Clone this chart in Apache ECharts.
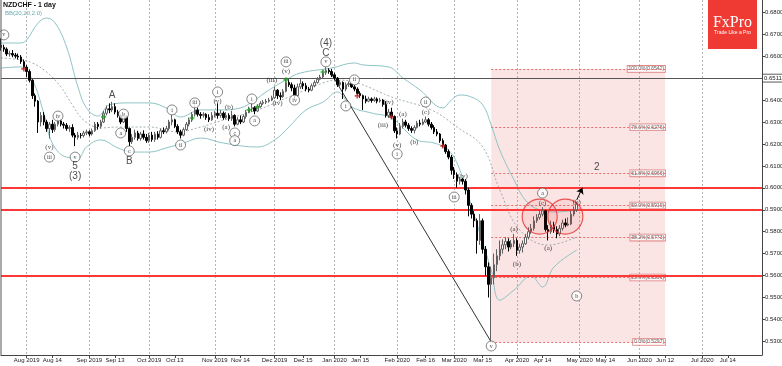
<!DOCTYPE html>
<html><head><meta charset="utf-8">
<script src="https://cdn.jsdelivr.net/npm/echarts/dist/echarts.min.js"></script>
<style>html,body{margin:0;padding:0;background:#fff}#c{width:782px;height:366px}</style>
</head><body><div id="c"></div>
<script>
// ---------- categories (trading days) ----------
const firstDay = [2019, 6, 19];
const slotCount = 268;
const closedDays = ['2019-12-25', '2020-01-01'];
const categories = [];
(function () {
  const d = new Date(Date.UTC(firstDay[0], firstDay[1], firstDay[2]));
  while (categories.length < slotCount) {
    const wd = d.getUTCDay();
    const s = d.toISOString().slice(0, 10);
    if (wd !== 0 && wd !== 6 && closedDays.indexOf(s) < 0) categories.push(s);
    d.setUTCDate(d.getUTCDate() + 1);
  }
})();

// ---------- x tick labels ----------
const tickDates = ['2019-08-01','2019-08-14','2019-09-02','2019-09-13','2019-10-01','2019-10-14','2019-11-01','2019-11-14','2019-12-02','2019-12-16','2020-01-02','2020-01-15','2020-02-03','2020-02-17','2020-03-02','2020-03-16','2020-04-01','2020-04-14','2020-05-01','2020-05-14','2020-06-01','2020-06-12','2020-07-01','2020-07-14'];
const tickLabels = ['Aug 2019','Aug 14','Sep 2019','Sep 13','Oct 2019','Oct 13','Nov 2019','Nov 14','Dec 2019','Dec 15','Jan 2020','Jan 15','Feb 2020','Feb 16','Mar 2020','Mar 15','Apr 2020','Apr 14','May 2020','May 14','Jun 2020','Jun 12','Jul 2020','Jul 14'];
const monthStarts = ['2019-08-01','2019-09-02','2019-10-01','2019-11-01','2019-12-02','2020-01-02','2020-02-03','2020-03-02','2020-04-01','2020-05-01','2020-06-01','2020-07-01'];

// ---------- daily OHLC from 2019-07-19 ----------
const opens = [.6650,.6640,.6632,.6610,.6612,.6605,.6600,.6596,.6575,.6550,.6530,.6490,.6420,.6395,.6300,.6330,.6300,.6270,.6290,.6265,
.6290,.6305,.6290,.6285,.6270,.6275,.6240,.6230,.6240,.6238,.6250,.6255,.6245,.6260,.6290,.6280,.6300,.6340,.6360,.6355,
.6370,.6345,.6330,.6300,.6325,.6270,.6210,.6230,.6250,.6225,.6245,.6230,.6215,.6240,.6220,.6245,.6230,.6260,.6255,.6270,
.6300,.6310,.6280,.6255,.6240,.6265,.6290,.6310,.6335,.6355,.6335,.6330,.6335,.6320,.6310,.6330,.6340,.6330,.6340,.6320,
.6330,.6315,.6330,.6290,.6310,.6300,.6325,.6345,.6360,.6365,.6350,.6370,.6385,.6390,.6395,.6400,.6410,.6445,.6420,.6415,
.6440,.6480,.6470,.6455,.6420,.6460,.6475,.6465,.6450,.6445,.6465,.6480,.6495,.6505,.6525,.6535,.6530,.6515,.6500,.6470,
.6480,.6450,.6470,.6475,.6460,.6450,.6430,.6420,.6405,.6395,.6405,.6398,.6405,.6395,.6400,.6380,.6330,.6345,.6325,.6260,
.6245,.6280,.6300,.6285,.6270,.6262,.6275,.6295,.6290,.6300,.6310,.6290,.6275,.6255,.6245,.6215,.6195,.6165,.6140,.6080,
.6060,.6030,.6040,.6030,.5990,.5920,.5880,.5850,.5760,.5850,.5720,.5640,.5560,.5590,.5650,.5690,.5720,.5740,.5755,.5730,
.5745,.5760,.5715,.5730,.5745,.5775,.5800,.5815,.5850,.5865,.5880,.5895,.5810,.5800,.5830,.5810,.5790,.5815,.5840,.5830,
.5835,.5880,.5900];
const closes = [.6640,.6632,.6610,.6612,.6605,.6600,.6596,.6575,.6550,.6530,.6490,.6420,.6395,.6300,.6330,.6300,.6270,.6290,.6265,.6290,
.6305,.6290,.6285,.6270,.6275,.6240,.6230,.6240,.6238,.6250,.6255,.6245,.6260,.6290,.6280,.6300,.6340,.6360,.6355,.6370,
.6345,.6330,.6300,.6325,.6270,.6210,.6230,.6250,.6225,.6245,.6230,.6215,.6240,.6220,.6245,.6230,.6260,.6255,.6270,.6300,
.6310,.6280,.6255,.6240,.6265,.6290,.6310,.6335,.6355,.6335,.6330,.6335,.6320,.6310,.6330,.6340,.6330,.6340,.6320,.6330,
.6315,.6330,.6290,.6310,.6300,.6325,.6345,.6360,.6365,.6350,.6370,.6385,.6390,.6395,.6400,.6410,.6445,.6420,.6415,.6440,
.6480,.6470,.6455,.6420,.6460,.6475,.6465,.6450,.6445,.6465,.6480,.6495,.6505,.6525,.6535,.6530,.6515,.6500,.6470,.6480,
.6450,.6470,.6475,.6460,.6450,.6430,.6420,.6405,.6395,.6405,.6398,.6405,.6395,.6400,.6380,.6330,.6345,.6325,.6260,.6245,
.6280,.6300,.6285,.6270,.6262,.6275,.6295,.6290,.6300,.6310,.6290,.6275,.6255,.6245,.6215,.6195,.6165,.6140,.6080,.6060,
.6030,.6040,.6030,.5990,.5920,.5880,.5850,.5760,.5850,.5720,.5640,.5560,.5590,.5650,.5690,.5720,.5740,.5755,.5730,.5745,
.5760,.5715,.5730,.5745,.5775,.5800,.5815,.5850,.5865,.5880,.5895,.5810,.5800,.5830,.5810,.5790,.5815,.5840,.5830,.5835,
.5880,.5900,.5925];
const lows = [.6625,.6620,.6600,.6598,.6595,.6590,.6585,.6565,.6540,.6505,.6480,.6405,.6370,.6250,.6280,.6285,.6255,.6225,.6250,.6255,
.6280,.6280,.6270,.6260,.6255,.6230,.6190,.6220,.6225,.6230,.6240,.6235,.6238,.6255,.6265,.6270,.6295,.6330,.6340,.6345,
.6335,.6320,.6290,.6295,.6255,.6190,.6200,.6220,.6215,.6215,.6220,.6205,.6205,.6210,.6210,.6220,.6225,.6245,.6248,.6262,
.6285,.6272,.6245,.6225,.6235,.6260,.6280,.6300,.6325,.6325,.6315,.6320,.6310,.6300,.6305,.6320,.6315,.6320,.6310,.6312,
.6305,.6305,.6280,.6285,.6290,.6295,.6315,.6340,.6345,.6335,.6345,.6365,.6378,.6382,.6388,.6395,.6405,.6405,.6400,.6410,
.6435,.6460,.6440,.6405,.6415,.6450,.6450,.6440,.6435,.6440,.6458,.6475,.6490,.6500,.6515,.6520,.6505,.6490,.6460,.6455,
.6405,.6440,.6460,.6455,.6440,.6420,.6410,.6355,.6385,.6390,.6388,.6392,.6385,.6388,.6370,.6320,.6318,.6315,.6250,.6225,
.6240,.6270,.6275,.6260,.6250,.6248,.6270,.6280,.6285,.6295,.6280,.6265,.6245,.6235,.6205,.6185,.6155,.6130,.6060,.6040,
.6000,.6015,.6015,.5970,.5870,.5860,.5820,.5700,.5740,.5700,.5600,.5500,.5297,.5560,.5620,.5670,.5700,.5720,.5710,.5720,
.5730,.5690,.5700,.5705,.5740,.5765,.5790,.5805,.5840,.5855,.5870,.5800,.5760,.5790,.5795,.5770,.5780,.5805,.5820,.5825,
.5830,.5870,.5890];
const highs = [.6680,.6652,.6640,.6625,.6628,.6615,.6612,.6605,.6585,.6560,.6540,.6495,.6430,.6400,.6345,.6345,.6310,.6300,.6310,.6300,
.6320,.6315,.6300,.6295,.6285,.6290,.6250,.6255,.6250,.6260,.6265,.6262,.6270,.6300,.6300,.6310,.6350,.6375,.6385,.6392,
.6385,.6355,.6335,.6335,.6330,.6275,.6245,.6265,.6260,.6255,.6262,.6245,.6250,.6255,.6255,.6258,.6270,.6275,.6282,.6310,
.6335,.6315,.6290,.6265,.6275,.6300,.6320,.6345,.6380,.6365,.6345,.6345,.6340,.6335,.6345,.6350,.6385,.6355,.6348,.6345,
.6340,.6350,.6335,.6322,.6330,.6335,.6355,.6370,.6385,.6372,.6380,.6395,.6400,.6405,.6410,.6420,.6460,.6450,.6435,.6450,
.6500,.6495,.6480,.6470,.6475,.6500,.6485,.6478,.6460,.6475,.6490,.6505,.6515,.6535,.6550,.6545,.6542,.6525,.6505,.6490,
.6485,.6480,.6485,.6478,.6468,.6458,.6440,.6425,.6420,.6415,.6412,.6415,.6412,.6410,.6405,.6395,.6360,.6365,.6330,.6275,
.6295,.6315,.6310,.6295,.6280,.6285,.6305,.6310,.6315,.6325,.6318,.6300,.6285,.6268,.6250,.6225,.6200,.6175,.6150,.6095,
.6070,.6050,.6045,.6040,.6000,.5930,.5895,.5860,.5880,.5860,.5735,.5660,.5640,.5700,.5720,.5760,.5765,.5775,.5770,.5762,
.5790,.5770,.5745,.5760,.5790,.5820,.5835,.5870,.5880,.5900,.5912,.5900,.5830,.5850,.5845,.5825,.5830,.5855,.5860,.5865,
.5895,.5915,.5935];

// ---------- Bollinger band (20, 2.0) samples ----------
const bbUpper = [['2019-07-19',.6660],['2019-07-30',.6660],['2019-08-01',.6674],['2019-08-07',.6751],['2019-08-12',.6774],['2019-08-15',.6751],['2019-08-21',.6642],['2019-08-27',.6460],['2019-08-30',.6364],['2019-09-05',.6327],['2019-09-11',.6378],['2019-09-20',.6387],['2019-10-01',.6387],['2019-10-09',.6364],['2019-10-16',.6323],['2019-10-25',.6355],['2019-11-05',.6355],['2019-11-14',.6364],['2019-11-21',.6400],['2019-11-27',.6437],['2019-12-06',.6492],['2019-12-13',.6523],['2019-12-31',.6546],['2020-01-13',.6569],['2020-01-16',.6560],['2020-01-29',.6551],['2020-02-05',.6501],['2020-02-13',.6446],['2020-02-25',.6364],['2020-02-28',.6400],['2020-03-04',.6423],['2020-03-10',.6414],['2020-03-16',.6378],['2020-03-19',.6286],['2020-03-24',.6172],['2020-03-31',.6036],['2020-04-06',.5944],['2020-04-13',.5899],['2020-04-21',.5890],['2020-04-30',.5899]];
const bbMiddle = [['2019-07-19',.6592],['2019-07-30',.6583],['2019-08-05',.6569],['2019-08-12',.6528],['2019-08-19',.6460],['2019-08-23',.6378],['2019-08-29',.6309],['2019-09-06',.6273],['2019-09-16',.6277],['2019-10-01',.6277],['2019-10-15',.6255],['2019-10-25',.6277],['2019-11-06',.6309],['2019-11-22',.6355],['2019-12-09',.6414],['2019-12-26',.6478],['2020-01-03',.6491],['2020-01-14',.6478],['2020-01-30',.6414],['2020-02-19',.6355],['2020-03-03',.6277],['2020-03-16',.6186],['2020-03-24',.5990],['2020-04-02',.5808],['2020-04-16',.5739],['2020-04-30',.5776]];
const bbLower = [['2019-07-19',.6546],['2019-07-30',.6551],['2019-08-05',.6492],['2019-08-09',.6341],['2019-08-14',.6204],['2019-08-21',.6140],['2019-08-27',.6136],['2019-08-30',.6186],['2019-09-06',.6218],['2019-09-16',.6182],['2019-09-23',.6163],['2019-10-01',.6163],['2019-10-09',.6182],['2019-10-17',.6204],['2019-10-25',.6227],['2019-11-06',.6204],['2019-11-22',.6186],['2019-12-02',.6218],['2019-12-09',.6277],['2019-12-17',.6355],['2019-12-26',.6391],['2020-01-03',.6437],['2020-01-10',.6369],['2020-01-21',.6341],['2020-01-30',.6318],['2020-02-12',.6218],['2020-02-20',.6204],['2020-02-27',.6172],['2020-03-04',.6081],['2020-03-11',.5876],['2020-03-19',.5625],['2020-03-24',.5488],['2020-03-31',.5534],['2020-04-08',.5598],['2020-04-14',.5548],['2020-04-20',.5639],['2020-04-30',.5716]];

// ---------- levels ----------
const redLevels = [0.6000, 0.5900, 0.5600];
const greyLevel = 0.6509;
const greyLevelText = '0.6511';
const priceTags = [[0.5931, '0.5931'], [0.5886, '0.5881']];
const fibStart = '2020-03-19';
const fibEnd = '2020-06-12';
const fibPrices = [0.6542, 0.6276, 0.6066, 0.5919, 0.5773, 0.5591, 0.5297];
const fibTexts = ['100.0%(0.6542)', '78.6%(0.6276)', '61.8%(0.6066)', '50.0%(0.5919)', '38.2%(0.5773)', '23.6%(0.5591)', '0.0%(0.5297)'];

// ---------- wave labels ----------
const circledLabels = [['2019-07-22',.6697,'v'],['2019-08-13',.6140,'iii'],['2019-08-16',.6327,'iv'],['2019-08-26',.6140,'v'],['2019-09-18',.6336,'b'],['2019-09-17',.6250,'a'],['2019-09-20',.6168,'c'],['2019-10-11',.6355,'i'],['2019-10-16',.6195,'ii'],['2019-10-23',.6387,'iii'],['2019-11-04',.6437,'i'],['2019-11-12',.6250,'c'],['2019-11-12',.6215,'a'],['2019-11-20',.6405,'i'],['2019-11-21',.6305,'a'],['2019-12-06',.6574,'iii'],['2019-12-11',.6400,'iv'],['2019-12-27',.6574,'v'],['2020-01-08',.6373,'i'],['2020-01-13',.6492,'ii'],['2020-02-03',.6154,'i'],['2020-02-17',.6391,'ii'],['2020-03-02',.5958,'iii'],['2020-04-14',.5976,'a'],['2020-04-30',.5507,'b'],['2020-03-19',.5279,'v']];
const parenLabels = [['2019-08-13',.6186,'(v)'],['2019-10-30',.6268,'(iv)'],['2019-11-04',.6396,'(v)'],['2019-11-08',.6369,'(b)'],['2019-11-07',.6277,'(a)'],['2019-11-29',.6492,'(iii)'],['2019-12-03',.6387,'(iv)'],['2019-12-06',.6533,'(v)'],['2020-01-29',.6391,'(iv)'],['2020-01-27',.6286,'(iii)'],['2020-02-03',.6195,'(v)'],['2020-02-05',.6336,'(a)'],['2020-02-11',.6209,'(b)'],['2020-02-17',.6346,'(c)'],['2020-03-05',.6054,'(iv)'],['2020-03-31',.5812,'(a)'],['2020-04-01',.5653,'(b)'],['2020-04-14',.5931,'(c)'],['2020-04-16',.5726,'(a)'],['2020-04-30',.5935,'(b)']];
const bigLabels = [['2019-08-26',.6099,'5'],['2019-08-26',.6054,'(3)'],['2019-09-12',.6423,'A'],['2019-09-20',.6122,'B'],['2019-12-27',.6615,'C'],['2019-12-27',.6660,'(4)'],['2020-05-11',.6095,'2']];
const greenCrosses = [['2019-09-09',.6323],['2019-10-22',.6318],['2019-11-19',.6355],['2019-11-22',.6369],['2019-12-06',.6492],['2019-12-26',.6528]];
const redCrosses = [['2019-07-31',.6542],['2020-01-14',.6419],['2020-01-30',.6323],['2020-02-25',.6191]];
const zoneCircles = [['2020-04-13',.5869],['2020-04-24',.5869]];
const trendLine = [['2019-12-30',.6540],['2020-03-19',.5297]];
const arrowLine = [['2020-04-30',.5945],['2020-05-04',.6000]];

// ---------- chart ----------
const tickSet = new Set(tickDates);
const tickMap = {}; tickDates.forEach((d, i) => tickMap[d] = tickLabels[i]);
const monthSet = new Set(monthStarts);
const candleData = opens.map((o, i) => [o, closes[i], lows[i], highs[i]]);
const idx = d => categories.indexOf(d);
const FONT = 'Liberation Sans';
const SERIF = 'Liberation Serif';
const crossPath = 'path://M2,0H4V2H6V4H4V6H2V4H0V2H2Z';

const chart = echarts.init(document.getElementById('c'), null, {renderer: 'canvas', width: 782, height: 366});
chart.setOption({
  animation: false,
  backgroundColor: '#ffffff',
  grid: {left: 1, right: 20, top: 0, bottom: 11, containLabel: false, outerBoundsMode: 'none', show: false},
  xAxis: {
    type: 'category', data: categories, boundaryGap: false,
    axisLine: {show: true, lineStyle: {color: '#444', width: 1}},
    axisTick: {show: true, length: 3, interval: (i, v) => tickSet.has(v), lineStyle: {color: '#444'}},
    axisLabel: {show: true, interval: (i, v) => tickSet.has(v), formatter: v => tickMap[v] || '', fontSize: 6, color: '#222', margin: 2, fontFamily: FONT},
    splitLine: {show: true, interval: (i, v) => monthSet.has(v), lineStyle: {color: '#b4b4b4', type: [2, 2], width: 1}}
  },
  yAxis: {
    type: 'value', position: 'right', min: 0.5238, max: 0.6856, splitNumber: 16,
    axisLine: {show: true, lineStyle: {color: '#444', width: 1}},
    axisTick: {show: true, length: 3, lineStyle: {color: '#444'}},
    axisLabel: {fontSize: 6, color: '#222', margin: 3, fontFamily: FONT, formatter: v => v.toFixed(4), showMinLabel: false, showMaxLabel: false},
    splitLine: {show: false}
  },
  graphic: [
    {type: 'line', shape: {x1: 1, y1: 0, x2: 1, y2: 355}, style: {stroke: '#555', lineWidth: 1}, z: 100},
    {type: 'text', left: 3, top: 2, style: {text: 'NZDCHF - 1 day', font: 'bold 7px "Liberation Sans"', fill: '#111'}, z: 100},
    {type: 'text', left: 5, top: 10, style: {text: 'BB(20,20,2.0)', font: '6px "Liberation Sans"', fill: '#6aabb0'}, z: 100},
    {type: 'rect', shape: {x: 708, y: 0, width: 49, height: 49}, style: {fill: '#ee3a33'}, z: 100},
    {type: 'text', x: 732.5, y: 23, style: {text: 'FxPro', font: '16px "Liberation Serif"', fill: '#fff', align: 'center', verticalAlign: 'middle'}, z: 101},
    {type: 'text', x: 732.5, y: 33, style: {text: 'Trade Like a Pro', font: '5px "Liberation Sans"', fill: '#fff', align: 'center', verticalAlign: 'middle'}, z: 101}
  ],
  series: [
    {
      name: 'fib', type: 'scatter', symbolSize: 0, z: 1, silent: true,
      data: fibPrices.map((p, i) => ({value: [fibEnd, p], name: fibTexts[i]})),
      label: {show: true, position: 'left', distance: 0, formatter: '{b}', fontSize: 5, fontFamily: FONT, color: '#333', backgroundColor: '#fff', borderColor: '#d86a6a', borderWidth: 0.8, padding: [1, 1, 0, 1]},
      markArea: {silent: true, itemStyle: {color: 'rgba(228,120,120,0.2)'}, data: [[{coord: [fibStart, fibPrices[6]]}, {coord: [fibEnd, fibPrices[0]]}]]},
      markLine: {silent: true, symbol: 'none', label: {show: false}, lineStyle: {color: '#e07070', type: [2, 2], width: 1},
        data: fibPrices.map(p => [{coord: [fibStart, p]}, {coord: [fibEnd, p]}])}
    },
    {name: 'bbUpper', type: 'line', data: bbUpper, smooth: 0.4, symbol: 'none', lineStyle: {color: '#8fc4c6', width: 1}, z: 2, silent: true},
    {name: 'bbMiddle', type: 'line', data: bbMiddle, smooth: 0.4, symbol: 'none', lineStyle: {color: '#8a9a9a', width: 0.8, type: [2, 2]}, z: 2, silent: true},
    {name: 'bbLower', type: 'line', data: bbLower, smooth: 0.4, symbol: 'none', lineStyle: {color: '#8fc4c6', width: 1}, z: 2, silent: true},
    {name: 'trend', type: 'line', data: trendLine, symbol: 'none', lineStyle: {color: '#333', width: 1}, z: 3, silent: true},
    {
      name: 'NZDCHF', type: 'candlestick', data: candleData, barWidth: 2, z: 5, silent: true,
      itemStyle: {color: '#ffffff', color0: '#000000', borderColor: '#606060', borderColor0: '#000000', borderWidth: 1},
      markLine: {
        silent: true, symbol: 'none',
        data: redLevels.map(v => ({yAxis: v, lineStyle: {color: '#ff3838', width: 2, type: 'solid'}, label: {show: false}}))
          .concat([{yAxis: greyLevel, lineStyle: {color: '#555', width: 1, type: 'solid'},
            label: {show: true, position: 'end', distance: 1, formatter: greyLevelText, fontSize: 6, fontFamily: FONT, color: '#222', backgroundColor: '#fff', borderColor: '#444', borderWidth: 0.8, padding: [1, 1, 0, 1]}}])
          .concat(priceTags.map((t, i) => ({yAxis: t[0], lineStyle: {opacity: 0},
            label: {show: true, position: 'end', distance: 1, formatter: t[1], fontSize: 6, fontFamily: FONT, color: '#222',
              backgroundColor: i === 0 ? '#fff' : '#f2b8b8', borderColor: i === 0 ? '#444' : '#d66', borderWidth: 0.8, padding: [1, 1, 0, 1]}})))
      }
    },
    {name: 'arrow', type: 'lines', coordinateSystem: 'cartesian2d', z: 6, silent: true, symbol: ['none', 'arrow'], symbolSize: 6,
      lineStyle: {color: '#000', width: 1, opacity: 1},
      data: [{coords: arrowLine.map(p => [idx(p[0]), p[1]])}]},
    {name: 'zones', type: 'scatter', data: zoneCircles, symbol: 'circle', symbolSize: 35, z: 6, silent: true,
      itemStyle: {color: 'rgba(240,60,60,0.10)', borderColor: '#e62e2e', borderWidth: 1.2}},
    {name: 'greenX', type: 'scatter', data: greenCrosses, symbol: crossPath, symbolSize: 5, z: 7, silent: true, itemStyle: {color: '#20a020'}},
    {name: 'redX', type: 'scatter', data: redCrosses, symbol: crossPath, symbolSize: 5, z: 7, silent: true, itemStyle: {color: '#c82020'}},
    {name: 'circled', type: 'scatter', z: 8, silent: true, symbol: 'circle', symbolSize: 10,
      data: circledLabels.map(l => ({value: [l[0], l[1]], name: l[2]})),
      itemStyle: {color: '#fff', borderColor: '#444', borderWidth: 0.8},
      label: {show: true, position: 'inside', formatter: '{b}', fontSize: 6, fontFamily: SERIF, color: '#111'}},
    {name: 'paren', type: 'scatter', z: 8, silent: true, symbolSize: 0,
      data: parenLabels.map(l => ({value: [l[0], l[1]], name: l[2]})),
      label: {show: true, position: 'inside', formatter: '{b}', fontSize: 7, fontFamily: SERIF, color: '#111'}},
    {name: 'big', type: 'scatter', z: 8, silent: true, symbolSize: 0,
      data: bigLabels.map(l => ({value: [l[0], l[1]], name: l[2]})),
      label: {show: true, position: 'inside', formatter: '{b}', fontSize: 10, fontFamily: FONT, color: '#222'}}
  ]
});
</script>
</body></html>
